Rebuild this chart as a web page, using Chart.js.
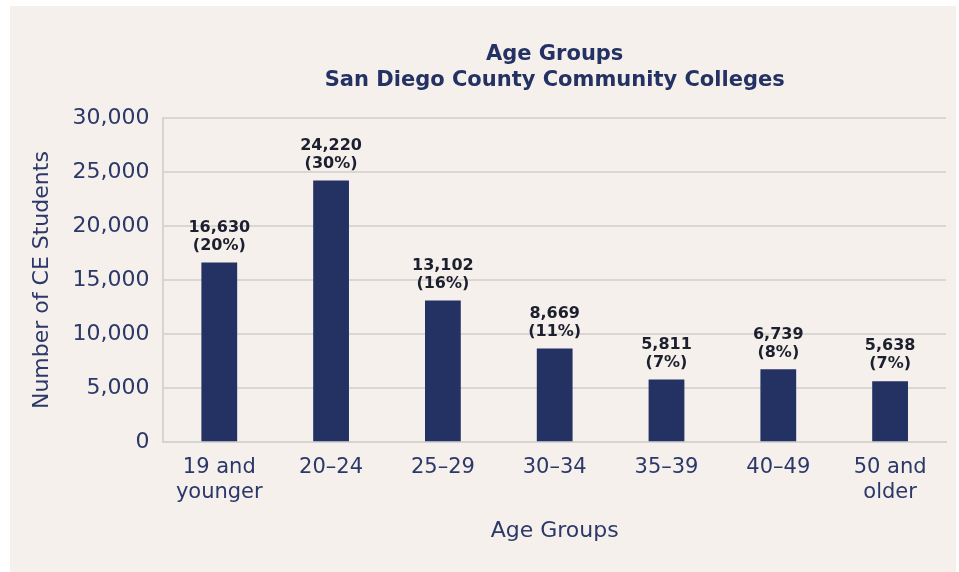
<!DOCTYPE html>
<html>
<head>
<script src="https://cdn.jsdelivr.net/npm/chart.js"></script>
<style>
    html, body { margin: 0; padding: 0; background: #ffffff; }
    .panel {
        position: absolute; left: 10px; top: 6px;
        width: 946px; height: 566px;
        background: #f5f0ec;
    }
    .panel canvas { display: block; }
</style>
</head>
<body>
<div class="panel">
    <canvas id="ageChart" width="946" height="566"></canvas>
</div>
<script>
    const categories = [['19 and', 'younger'], '20\u201324', '25\u201329', '30\u201334', '35\u201339', '40\u201349', ['50 and', 'older']];
    const students = [16630, 24220, 13102, 8669, 5811, 6739, 5638];
    const shares = ['20%', '30%', '16%', '11%', '7%', '8%', '7%'];
    const titleLines = ['Age Groups', 'San Diego County Community Colleges'];

    const navy = '#233163';
    const textBlue = '#2b3868';
    const fontFamily = '"DejaVu Sans", sans-serif';

    // two-line value labels above each bar
    const barLabels = {
        id: 'barLabels',
        afterDatasetsDraw(chart) {
            const ctx = chart.ctx;
            const meta = chart.getDatasetMeta(0);
            ctx.save();
            ctx.fillStyle = '#1c1f2e';
            ctx.font = 'bold 16px ' + fontFamily;
            ctx.textAlign = 'center';
            ctx.textBaseline = 'middle';
            meta.data.forEach((bar, i) => {
                ctx.fillText('(' + shares[i] + ')', bar.x, bar.y - 17);
                ctx.fillText(students[i].toLocaleString('en-US'), bar.x, bar.y - 35);
            });
            ctx.restore();
        }
    };

    // title centred over the plot area rather than the whole canvas
    const plotTitle = {
        id: 'plotTitle',
        afterDraw(chart) {
            const ctx = chart.ctx;
            const area = chart.chartArea;
            const cx = (area.left + area.right) / 2;
            ctx.save();
            ctx.fillStyle = navy;
            ctx.font = 'bold 21px ' + fontFamily;
            ctx.textAlign = 'center';
            ctx.textBaseline = 'middle';
            ctx.fillText(titleLines[0], cx, 49);
            ctx.fillText(titleLines[1], cx, 75);
            ctx.restore();
        }
    };

    new Chart(document.getElementById('ageChart'), {
        type: 'bar',
        data: {
            labels: categories,
            datasets: [{
                data: students,
                backgroundColor: navy,
                barPercentage: 0.32,
                categoryPercentage: 1
            }]
        },
        options: {
            responsive: false,
            animation: false,
            layout: { padding: { left: 15, right: 10, top: 112, bottom: 24 } },
            plugins: {
                legend: { display: false },
                tooltip: { enabled: false },
                title: { display: false }
            },
            scales: {
                x: {
                    grid: { display: false },
                    border: { color: '#d6d3d0', width: 2 },
                    ticks: {
                        color: textBlue,
                        font: { family: fontFamily, size: 21, lineHeight: 1.2 },
                        padding: 5,
                        maxRotation: 0
                    },
                    title: {
                        display: true,
                        text: 'Age Groups',
                        color: textBlue,
                        font: { family: fontFamily, size: 22 },
                        padding: { top: 7 }
                    }
                },
                y: {
                    min: 0,
                    max: 30000,
                    grid: { color: '#d9d6d3', lineWidth: 2, drawTicks: false },
                    border: { color: '#d6d3d0', width: 2 },
                    ticks: {
                        stepSize: 5000,
                        color: textBlue,
                        font: { family: fontFamily, size: 22 },
                        padding: 14,
                        callback: (v) => v.toLocaleString('en-US')
                    },
                    title: {
                        display: true,
                        text: 'Number of CE Students',
                        color: textBlue,
                        font: { family: fontFamily, size: 22 },
                        padding: { bottom: 3 }
                    }
                }
            }
        },
        plugins: [barLabels, plotTitle]
    });
</script>
</body>
</html>
